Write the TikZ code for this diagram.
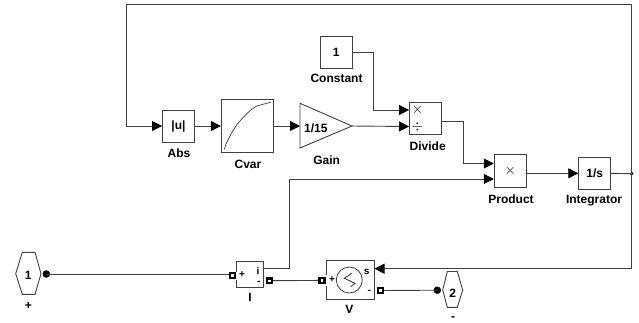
\documentclass[tikz,border=0pt]{standalone}
\usepackage{fontspec}
\setmainfont{Liberation Sans}
\usetikzlibrary{arrows.meta}

\begin{document}
\begin{tikzpicture}[x=1pt, y=-1pt,
    every node/.style={inner sep=0pt, font=\fontsize{12}{14}\selectfont\bfseries},
    block/.style={draw=black!75, line width=0.9pt, fill=white, minimum width=32pt, minimum height=32pt},
    wire/.style={draw=black!75, line width=0.9pt},
    sig/.style={wire, -{Triangle[length=10pt, width=10pt, black]}},
    conn/.style={draw=black, fill=black, circle, minimum size=7pt},
    portbox/.style={draw=black, fill=white, line width=2.4pt, minimum size=4.8pt},
    gapbox/.style={fill=white, minimum width=3pt, minimum height=11pt},
    small/.style={font=\fontsize{10}{12}\selectfont\bfseries},
    sign/.style={font=\fontsize{15}{15}\selectfont}
 ]
\useasboundingbox (0,0) rectangle (639,322);

% blocks
\node [block] (Abs) at (178.5,126) {|u|};
\node [block, minimum width=52pt, minimum height=53.5pt] (Cvar) at (247.3,126) {};
\node [block] (Constant) at (336.3,52.2) {1};
\node [block] (Divide) at (425.5,118.3) {};
\node [block, minimum height=33.5pt, sign] (Product) at (510.2,171) {$\times$};
\node [block] (Integrator) at (594.7,173.3) {1/s};
\node [block, minimum width=26.6pt, minimum height=25.6pt] (I) at (250,274.5) {};
\node [block, minimum width=47.7pt, minimum height=38.7pt] (V) at (350.2,279.7) {};

% gain
\coordinate (GainA) at (300,103.3);
\coordinate (GainB) at (300,148);
\node (Gain) at (352,126) {};
\draw [wire] (GainA) -- (Gain.center) -- (GainB) -- cycle;
\node at (315.8,128) (GainText) {1/15};

% curve of cvar
\draw [black!75, line width=0.7pt] (224.3,149.3) -- (226,144) -- (231,134) -- (237,124.5) -- (243,117.5) -- (244,116.5) -- (250,110.5) -- (256.7,106) -- (266.7,103.3) -- (270.7,102.3);

% signs of divide
\node [sign] (DivideA) at (417.5,110) {$\times$};
\node [sign] (DivideB) at (417.5,126.5) {$\div$};

% ports
\node (PortA) at (28.3,275) {1};
\draw [wire] (15.7,273.7) -- (22.3,252.3) -- (35,252.3) -- (41,273.7) -- (35,294.3) -- (22.3,294.3) -- cycle;
\node (PortB) at (452.7,293) {2};
\draw [wire] (442.7,290) -- (447.3,271.5) -- (457.3,271.5) -- (462.7,290) -- (457.3,307.3) -- (447.3,307.3) -- cycle;
\node [conn] (DotA) at (46.3,274) {};
\node [conn] (DotB) at (437.3,290.2) {};
\node [conn, minimum size=3pt] (DotC) at (631.7,173.7) {};

% inside of i and v
\node [gapbox, minimum height=8pt] (GapI) at (236.7,275.5) {};
\node [gapbox] (GapV) at (326.3,280.5) {};
\node [small] (IPlus) at (242,275) {+};
\node [small] (Ii) at (258,271) {i};
\node [small] (IMinus) at (258.7,282.5) {-};
\node [small] (VPlus) at (332,280) {+};
\node [small] (Vs) at (366.7,272) {s};
\node [small] (VMinus) at (369.3,292) {-};
\node [draw=black!75, line width=0.8pt, circle, minimum size=26pt] (Sine) at (349.3,280) {};
\draw [black!75, line width=0.9pt] (351.7,273.3) -- (344.3,278.3) -- (355,283.3) -- (350.7,286.7);

\node [portbox] (PortIa) at (232.3,275.5) {};
\node [portbox] (PortIb) at (269.3,280.7) {};
\node [portbox] (PortVa) at (322,280.4) {};
\node [portbox] (PortVb) at (380.3,290.5) {};

% labels
\node (AbsLabel) at (179,153.7) {Abs};
\node (CvarLabel) at (248,164) {Cvar};
\node (GainLabel) at (326.7,160) {Gain};
\node (ConstantLabel) at (336.5,78.5) {Constant};
\node (DivideLabel) at (427.7,146) {Divide};
\node (ProductLabel) at (511,199) {Product};
\node (IntegratorLabel) at (594,201) {Integrator};
\node (ILabel) at (250,297.5) {I};
\node (VLabel) at (349.3,309) {V};
\node (PlusLabel) at (28.3,306) {+};
\node (MinusLabel) at (453,319) {-};

% signals
\coordinate (TurnA) at (126.7,126);
\coordinate (TurnB) at (126.7,4.7);
\coordinate (TurnC) at (631.7,4.7);
\coordinate (TurnD) at (631.7,268.7);
\draw [sig] (TurnD) -- (TurnC) -- (TurnB) -- (TurnA) -- (Abs.west);
\draw [sig] (DotC.center) -- (TurnD) -- (V.east |- TurnD);
\draw [sig] (Abs.east) -- (Cvar.west);
\draw [sig] (Cvar.east) -- (GainA |- Cvar.east);
\draw [wire] (Integrator.east) -- (DotC.center);
\draw [sig] (Gain.center) -- (Divide.west |- DivideB);
\draw [sig] (Constant.east) -- (373.3,52.2) -- (373.3,110) -- (Divide.west |- DivideA);
\draw [sig] (Divide.east |- 0,121) -- (463.3,121) -- (463.3,163.5) -- (Product.west |- 0,163.5);
\draw [sig] (Product.east |- Integrator.east) -- (Integrator.west);
\draw [sig] (I.east |- 0,268.7) -- (289.3,268.7) -- (289.3,179) -- (Product.west |- 0,179);
\draw [wire] (DotA.center) -- (PortIa.west |- DotA);
\draw [wire] (PortIb) -- (PortVa);
\draw [wire] (PortVb) -- (DotB.center);
\end{tikzpicture}
\end{document}
